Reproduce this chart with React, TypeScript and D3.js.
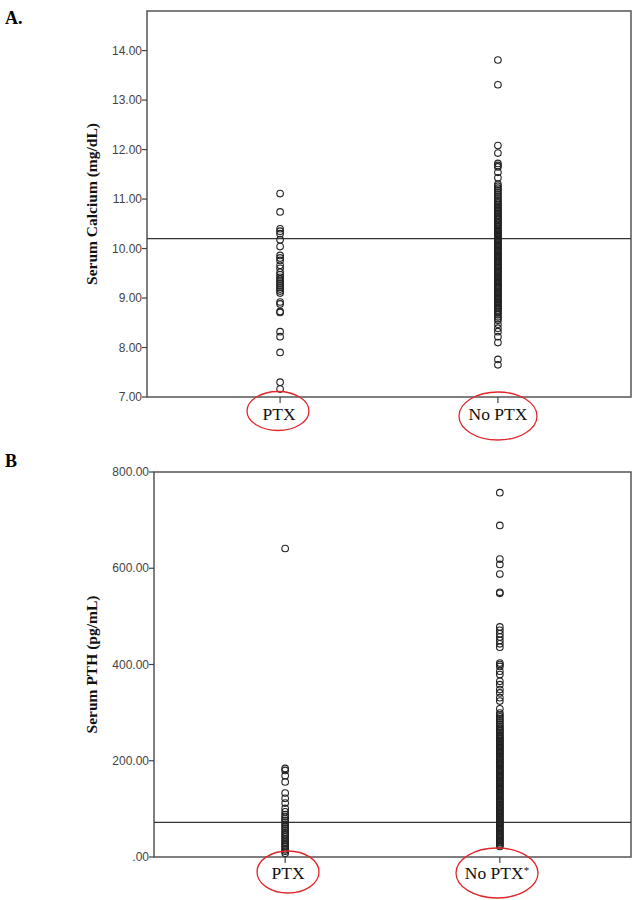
import React from "react";
import * as d3 from "d3";

const categories = ["PTX", "No PTX"];

const calciumPTX = [11.11, 10.74, 10.4, 10.35, 10.3, 10.18, 10.04, 9.86, 9.81, 9.76, 9.66, 9.6, 9.52, 9.47, 9.42, 9.38, 9.34, 9.3, 9.26, 9.22, 9.18, 9.14, 9.1, 8.92, 8.88, 8.73, 8.71, 8.32, 8.22, 7.9, 7.3, 7.16];

const calciumNoPTX = [13.81, 13.31, 12.08, 11.93, 11.72, 11.68, 11.65, 11.54, 11.43, 11.3, 11.26, 11.22, 11.18, 11.14, 11.1, 11.06, 11.02, 10.98, 10.95, 10.92, 10.89, 10.86, 10.83,
  10.8, 10.77, 10.74, 10.71, 10.68, 10.65, 10.62, 10.6, 10.57, 10.54, 10.52, 10.49, 10.46, 10.44, 10.41, 10.39, 10.36, 10.34, 10.31, 10.29, 10.26, 10.24, 10.21, 10.19, 10.16, 10.14, 10.11, 10.09, 10.06, 10.04, 10.01,
  9.99, 9.96, 9.94, 9.91, 9.89, 9.86, 9.84, 9.81, 9.79, 9.76, 9.74, 9.71, 9.69, 9.66, 9.64, 9.61, 9.59, 9.56, 9.54, 9.51, 9.49, 9.46, 9.44, 9.41, 9.39, 9.36, 9.34, 9.31, 9.29, 9.26, 9.24, 9.21, 9.19, 9.16, 9.14, 9.11, 9.09, 9.06, 9.04, 9.01,
  8.99, 8.96, 8.94, 8.91, 8.89, 8.86, 8.84, 8.81, 8.79, 8.76, 8.73, 8.7, 8.66, 8.62, 8.58, 8.55, 8.47, 8.39, 8.32, 8.22, 8.1, 7.76, 7.65];

const pthPTX = [641, 184, 180, 169, 156, 133, 122, 112, 101, 94, 88, 84, 80, 76, 72, 68, 64, 60, 56, 52, 48, 45, 42, 38, 35, 31, 28, 25, 22, 18, 15, 12, 8];

const pthNoPTX = [757, 689, 619, 608, 588, 550, 548, 478, 471, 464, 457, 450, 443, 436, 403, 400, 396, 386, 379, 365, 358, 348, 341, 331, 324, 308,
  299, 295, 291, 287, 283, 279, 275, 271, 268, 265, 262, 259, 256, 253, 250, 247, 245, 242, 240, 237, 235, 232, 230, 227, 225, 222, 220, 217, 215, 212, 210, 207, 205, 202,
  200, 197, 195, 192, 190, 187, 185, 182, 180, 177, 175, 172, 170, 167, 165, 162, 160, 157, 155, 152, 150, 147, 145, 142, 140, 137, 135, 132, 130, 127, 125, 122, 120, 117, 115, 112, 110, 107, 105, 102,
  100, 97, 95, 92, 90, 87, 85, 82, 80, 77, 75, 72, 70, 67, 65, 62, 60, 57, 55, 52, 50, 47, 45, 42, 40, 37, 35, 32, 30, 27, 25, 22];

const calciumTicks = [7, 8, 9, 10, 11, 12, 13, 14];
const pthTicks = [0, 200, 400, 600, 800];
const calciumRef = 10.2;
const pthRef = 72;

const fmt = (v: number) => {
  const s = d3.format(".2f")(v);
  return s.startsWith("0.") ? s.slice(1) : s;
};

type PanelProps = {
  left: number; right: number; top: number; bottom: number;
  domain: [number, number]; ticks: number[]; refVal: number;
  series: number[][]; title: string; panelLabel: string; labelY: number;
  catLabels: React.ReactNode[]; ellipses: { cx: number; cy: number; rx: number; ry: number }[];
  labelBaseline: number; labelXs: number[];
};

function Panel(p: PanelProps) {
  const y = d3.scaleLinear().domain(p.domain).range([p.bottom, p.top]);
  const x = d3.scalePoint<string>().domain(categories).range([p.left, p.right]).padding(0.611);
  const midY = (p.top + p.bottom) / 2;
  return (
    <g>
      <text x={5} y={p.labelY} fontFamily="Liberation Serif" fontWeight="bold" fontSize={18}>{p.panelLabel}</text>
      <rect x={p.left} y={p.top} width={p.right - p.left} height={p.bottom - p.top} fill="none" stroke="#555" strokeWidth={1.5} />
      {p.ticks.map((t) => (
        <g key={t}>
          <line x1={p.left - 5} x2={p.left} y1={y(t)} y2={y(t)} stroke="#444" strokeWidth={1.2} />
          <text x={p.left - 5} y={y(t)} dy="0.35em" textAnchor="end" fontFamily="Liberation Sans" fontSize={12} fill="#444">{fmt(t)}</text>
        </g>
      ))}
      <text transform={`translate(${97},${midY}) rotate(-90)`} textAnchor="middle" fontFamily="Liberation Serif" fontWeight="bold" fontSize={15.5} fill="#111">{p.title}</text>
      <line x1={p.left} x2={p.right} y1={y(p.refVal)} y2={y(p.refVal)} stroke="#333" strokeWidth={1.2} />
      {categories.map((c, i) => (
        <g key={c}>
          <line x1={x(c)} x2={x(c)} y1={p.bottom} y2={p.bottom + 6} stroke="#444" strokeWidth={1.2} />
          {p.series[i].map((v, j) => (
            <circle key={j} cx={x(c)} cy={y(v)} r={3.3} fill="none" stroke="#222" strokeWidth={1.1} />
          ))}
          <text x={p.labelXs[i]} y={p.labelBaseline} textAnchor="middle" fontFamily="Liberation Serif" fontSize={17.5} fill="#111">{p.catLabels[i]}</text>
          <ellipse cx={p.ellipses[i].cx} cy={p.ellipses[i].cy} rx={p.ellipses[i].rx} ry={p.ellipses[i].ry} fill="none" stroke="#e0262b" strokeWidth={1.3} />
        </g>
      ))}
    </g>
  );
}

export default function App() {
  return (
    <svg width={634} height={900} style={{ position: "absolute", left: 0, top: 0, background: "#fff" }}>
      <rect width={634} height={900} fill="#fff" />
      <Panel left={147} right={631} top={11} bottom={397} domain={[7, 14.8]} ticks={calciumTicks} refVal={calciumRef}
        series={[calciumPTX, calciumNoPTX]} title="Serum Calcium (mg/dL)" panelLabel="A." labelY={24}
        catLabels={["PTX", "No PTX"]} labelXs={[279, 498]} labelBaseline={420}
        ellipses={[{ cx: 278, cy: 411, rx: 31, ry: 19.5 }, { cx: 498, cy: 416, rx: 39, ry: 24 }]} />
      <Panel left={154} right={631} top={472} bottom={857} domain={[0, 800]} ticks={pthTicks} refVal={pthRef}
        series={[pthPTX, pthNoPTX]} title="Serum PTH (pg/mL)" panelLabel="B" labelY={467}
        catLabels={["PTX", <tspan key="a">No PTX<tspan fontSize={11} dy={-5}>*</tspan></tspan>]} labelXs={[288, 497]} labelBaseline={879}
        ellipses={[{ cx: 288, cy: 872, rx: 31, ry: 21 }, { cx: 497, cy: 873, rx: 41, ry: 25 }]} />
    </svg>
  );
}
